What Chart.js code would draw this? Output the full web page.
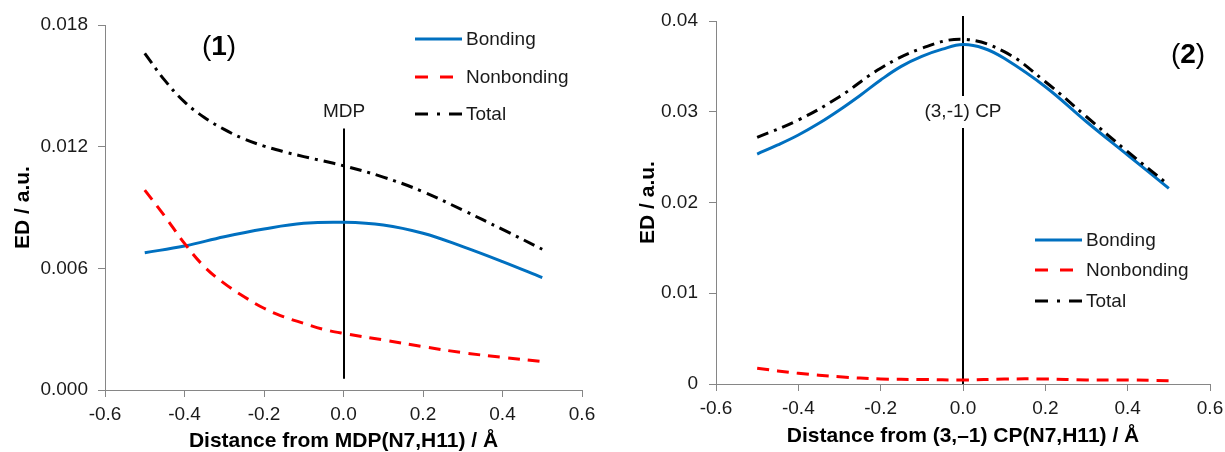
<!DOCTYPE html>
<html><head><meta charset="utf-8">
<script src="https://cdn.jsdelivr.net/npm/chart.js@4.4.0/dist/chart.umd.min.js"></script>
<style>
html,body{margin:0;padding:0;background:#fff;width:1225px;height:452px;overflow:hidden}
#c1{position:absolute;left:0;top:0}
#c2{position:absolute;left:612px;top:0}
</style></head><body>
<canvas id="c1" width="612" height="452"></canvas>
<canvas id="c2" width="613" height="452"></canvas>
<script>
// ---------- Data: panel (1) ----------
const seriesNames = ['Bonding', 'Nonbonding', 'Total'];
const xBonding1 = [-0.5,-0.4,-0.3,-0.2,-0.1,0,0.1,0.2,0.3,0.4,0.5];
const bonding1 = [0.00677,0.0071,0.00756,0.00794,0.00822,0.00827,0.00814,0.00773,0.00707,0.00633,0.00554];
const xNonbonding1 = [-0.5,-0.45,-0.4,-0.35,-0.3,-0.25,-0.2,-0.15,-0.1,-0.05,0,0.1,0.2,0.3,0.4,0.5];
const nonbonding1 = [0.00986,0.00858,0.00723,0.00608,0.00526,0.0046,0.00403,0.00361,0.00329,0.00299,0.00279,0.00247,0.00214,0.00184,0.00161,0.0014];
const xTotal1 = [-0.5,-0.45,-0.4,-0.35,-0.3,-0.25,-0.2,-0.15,-0.1,-0.05,0,0.1,0.2,0.3,0.4,0.5];
const total1 = [0.0166,0.01528,0.01421,0.01344,0.01285,0.01238,0.01203,0.01175,0.01151,0.01129,0.01106,0.0105,0.00978,0.00887,0.00792,0.00694];
const yTickLabels1 = ['0.000','0.006','0.012','0.018'];
const marker1 = {label:'MDP', x:0, yFrom:0.00055, yTo:0.0129};

// ---------- Data: panel (2) ----------
const xBonding2 = [-0.5,-0.45,-0.4,-0.35,-0.3,-0.25,-0.2,-0.15,-0.1,-0.05,0,0.05,0.1,0.2,0.3,0.4,0.5];
const bonding2 = [0.02534,0.02634,0.02744,0.02873,0.0302,0.0318,0.0335,0.0350,0.0361,0.0369,0.0374,0.0370,0.03589,0.03276,0.0289,0.02523,0.02156];
const xNonbonding2 = [-0.5,-0.4,-0.3,-0.2,-0.1,0,0.1,0.2,0.3,0.4,0.5];
const nonbonding2 = [0.00173,0.00118,0.0008,0.00055,0.0005,0.00044,0.00055,0.00055,0.00044,0.00044,0.00037];
const xTotal2 = [-0.5,-0.4,-0.3,-0.2,-0.1,0,0.1,0.2,0.3,0.4,0.5];
const total2 = [0.02718,0.02909,0.03166,0.03480,0.03699,0.03798,0.03662,0.03331,0.02945,0.0256,0.02193];
const yTickLabels2 = ['0','0.01','0.02','0.03','0.04'];
const marker2 = {label:'(3,-1) CP', x:0, yFrom:0, yTo:0.04055};

const xTickLabels = ['-0.6','-0.4','-0.2','0.0','0.2','0.4','0.6'];

const FONT = "'Liberation Sans', Arial, sans-serif";
const styles = [
  {color:'#0070C0', dash:[]},
  {color:'#FF0000', dash:[12,8]},
  {color:'#000000', dash:[12,6,3,6]}
];

function pts(xs, ys){ return xs.map((x,i)=>({x:x, y:ys[i]})); }

function makeDatasets(series){
  return series.map((s,i)=>({
    label: seriesNames[i],
    data: pts(s[0], s[1]),
    borderColor: styles[i].color,
    borderDash: styles[i].dash,
    borderWidth: 3,
    pointRadius: 0,
    fill: false,
    tension: 0.4,
    order: 3 - i
  }));
}

function overlayPlugin(cfg){
  return {
    id: 'overlay',
    beforeDatasetsDraw(chart){
      const {ctx, scales:{x, y}} = chart;
      const m = cfg.marker;
      const px = Math.round(x.getPixelForValue(m.x));
      ctx.save();
      ctx.strokeStyle = '#000';
      ctx.lineWidth = 2;
      ctx.beginPath();
      ctx.moveTo(px, y.getPixelForValue(m.yTo));
      ctx.lineTo(px, y.getPixelForValue(m.yFrom));
      ctx.stroke();
      ctx.restore();
    },
    afterDatasetsDraw(chart){
      const {ctx, scales:{x, y}} = chart;
      const m = cfg.marker;
      const px = Math.round(x.getPixelForValue(m.x));
      ctx.save();
      ctx.font = '19px ' + FONT;
      ctx.textAlign = 'center';
      ctx.textBaseline = 'middle';
      if (cfg.labelBox){
        const w = ctx.measureText(m.label).width;
        ctx.fillStyle = '#fff';
        ctx.fillRect(px - w/2 - 2, cfg.labelY - 16, w + 4, 32);
      }
      ctx.fillStyle = '#1a1a1a';
      ctx.fillText(m.label, px, cfg.labelY);
      // panel number
      ctx.textAlign = 'left';
      ctx.font = '28px ' + FONT;
      const wp = ctx.measureText('(').width;
      ctx.font = 'bold 28px ' + FONT;
      const wn = ctx.measureText(cfg.panel).width;
      const total = wp*2 + wn;
      let sx = cfg.panelX - total/2;
      ctx.fillStyle = '#000';
      ctx.font = '28px ' + FONT;
      ctx.fillText('(', sx, cfg.panelY);
      ctx.font = 'bold 28px ' + FONT;
      ctx.fillText(cfg.panel, sx + wp, cfg.panelY);
      ctx.font = '28px ' + FONT;
      ctx.fillText(')', sx + wp + wn, cfg.panelY);
      // legend
      const L = cfg.legend;
      chart.data.datasets.forEach((ds, i) => {
        const yy = L.rows[i];
        ctx.save();
        ctx.strokeStyle = ds.borderColor;
        ctx.lineWidth = 3;
        ctx.setLineDash(i === 2 ? [13,9,3,9] : (i === 1 ? [13,12] : []));
        ctx.beginPath();
        ctx.moveTo(L.x0, yy);
        ctx.lineTo(L.x1, yy);
        ctx.stroke();
        ctx.restore();
        ctx.font = '19px ' + FONT;
        ctx.fillStyle = '#1a1a1a';
        ctx.textAlign = 'left';
        ctx.textBaseline = 'middle';
        ctx.fillText(ds.label, L.tx, yy + 1);
      });
      ctx.restore();
    }
  };
}

function makeChart(id, p){
  return new Chart(document.getElementById(id), {
    type: 'line',
    data: { datasets: makeDatasets(p.series) },
    options: {
      responsive: false,
      animation: false,
      devicePixelRatio: 1,
      layout: { padding: { top: p.top, right: p.right, left: 0, bottom: 0 } },
      plugins: { legend: { display: false }, tooltip: { enabled: false } },
      scales: {
        x: {
          type: 'linear', min: -0.6, max: 0.6,
          afterFit: s => { s.height = p.xHeight; s.paddingLeft = 0; s.paddingRight = 0; },
          ticks: { stepSize: 0.2, padding: 6, color: '#1a1a1a', font: { family: FONT, size: 19 },
                   maxRotation: 0, autoSkip: false,
                   callback: (v, i) => xTickLabels[i] },
          grid: { display: true, drawOnChartArea: false, drawTicks: true, tickLength: 7, color: '#868686' },
          border: { display: true, color: '#868686', width: 1 },
          title: { display: true, text: p.xTitle, color: '#000', padding: { top: 0, bottom: p.xTitlePad },
                   font: { family: FONT, size: 21, weight: 'bold' } }
        },
        y: {
          type: 'linear', min: 0, max: p.yMax,
          afterFit: s => { s.width = p.yWidth; s.paddingTop = 0; s.paddingBottom = 0; },
          ticks: { stepSize: p.yStep, padding: p.yTickPad, color: '#1a1a1a', font: { family: FONT, size: 19 },
                   callback: (v, i) => p.yLabels[i] },
          grid: { display: true, drawOnChartArea: false, drawTicks: true, tickLength: 7, color: '#868686' },
          border: { display: true, color: '#868686', width: 1 },
          title: { display: true, text: 'ED / a.u.', color: '#000', padding: { top: p.yTitlePad, bottom: 0 },
                   font: { family: FONT, size: 21, weight: 'bold' } }
        }
      }
    },
    plugins: [overlayPlugin(p.overlay)]
  });
}

makeChart('c1', {
  series: [[xBonding1, bonding1],[xNonbonding1, nonbonding1],[xTotal1, total1]],
  top: 25, right: 30, xHeight: 62, yWidth: 105,
  yMax: 0.018, yStep: 0.006, yLabels: yTickLabels1, yTickPad: 10,
  xTitle: 'Distance from MDP(N7,H11) / Å', xTitlePad: -2, yTitlePad: 11,
  overlay: { marker: marker1, labelY: 112, labelBox: false, panel: '1', panelX: 219, panelY: 47,
             legend: { x0: 415, x1: 462, tx: 466, rows: [39, 77, 114] } }
});

makeChart('c2', {
  series: [[xBonding2, bonding2],[xNonbonding2, nonbonding2],[xTotal2, total2]],
  top: 21, right: 15, xHeight: 68, yWidth: 104,
  yMax: 0.04, yStep: 0.01, yLabels: yTickLabels2, yTickPad: 11,
  xTitle: 'Distance from (3,–1) CP(N7,H11) / Å', xTitlePad: 3, yTitlePad: 24,
  overlay: { marker: marker2, labelY: 112, labelBox: true, panel: '2', panelX: 576, panelY: 55,
             legend: { x0: 423, x1: 470, tx: 474, rows: [240, 270, 301] } }
});
</script>
</body></html>
